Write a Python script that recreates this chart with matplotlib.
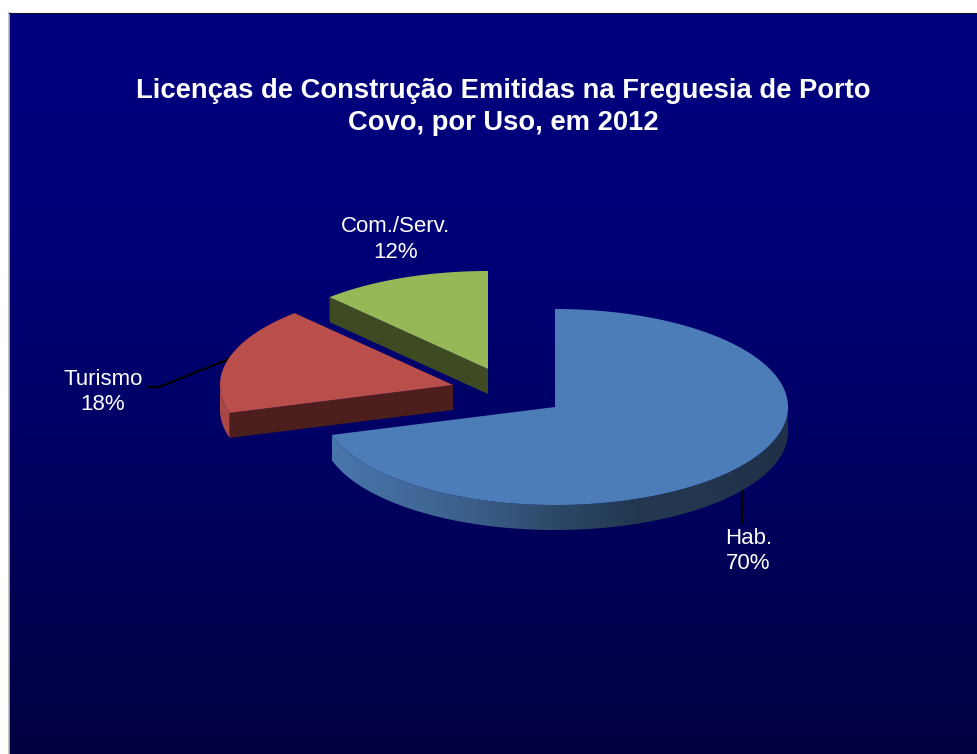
import numpy as np
import matplotlib
matplotlib.use("Agg")
import matplotlib.pyplot as plt
from matplotlib.patches import Polygon
from matplotlib.colors import LinearSegmentedColormap

title = "Licenças de Construção Emitidas na Freguesia de Porto\nCovo, por Uso, em 2012"
categories = ["Hab.", "Turismo", "Com./Serv."]
values = [70.4, 17.7, 11.9]

W, H = 977, 754
plt.rcParams["font.family"] = ["Liberation Sans", "DejaVu Sans"]
fig = plt.figure(figsize=(W / 100, H / 100), dpi=100, facecolor="white")
ax = fig.add_axes([0, 0, 1, 1])
ax.set_xlim(0, W)
ax.set_ylim(H, 0)
ax.axis("off")

# background panel
PX0, PY0 = 9, 13
bg = LinearSegmentedColormap.from_list("bg", ["#000080", "#000076", "#00005e", "#000040"])
ax.imshow(np.linspace(0, 1, 256)[:, None], cmap=bg, extent=(PX0, W, H, PY0),
          aspect="auto", zorder=0, interpolation="bilinear")
ax.set_xlim(0, W)
ax.set_ylim(H, 0)
ax.plot([PX0 - 0.5, PX0 - 0.5], [PY0, H], color="#b8b8b8", lw=1.2, zorder=1)
ax.plot([PX0, W], [PY0, PY0], color="#101030", lw=0.8, zorder=1)

# layout of the tilted pie
RX, RY, DEPTH = 233, 98, 25
centers = {"Hab.": (555, 407), "Turismo": (453, 385), "Com./Serv.": (488, 369)}
tops = {"Hab.": "#4d7db8", "Turismo": "#ba4e4a", "Com./Serv.": "#98b757"}
cuts = {"Turismo": "#4d1f1c", "Com./Serv.": "#3e4a22"}
RED_RIM = "#a84743"


def arc(c, a0, a1, dz=0, n=160):
    t = np.radians(np.linspace(a0, a1, n))
    return np.column_stack([c[0] + RX * np.cos(t), c[1] - RY * np.sin(t) + dz])


# wedge angles, clockwise from 12 o'clock
angles = {}
start = 90.0
for name, v in zip(categories, values):
    end = start - v / sum(values) * 360
    angles[name] = (start, end)
    start = end

# leader lines
ax.plot([148, 159, 229], [387, 387, 359], color="black", lw=1.6, zorder=2)
ax.plot([741.5, 741.5], [490, 523], color="black", lw=1.5, zorder=2)

# green slice
c = centers["Com./Serv."]
a0, a1 = angles["Com./Serv."]
edge = arc(c, a0, a0, n=1)[0]
ax.add_patch(Polygon([c, edge, edge + [0, DEPTH], np.array(c) + [0, DEPTH]],
                     fc=cuts["Com./Serv."], ec="none", zorder=3))
ax.add_patch(Polygon(np.vstack([[c], arc(c, a0, a1)]), fc=tops["Com./Serv."], ec="none", zorder=4))

# red slice
c = centers["Turismo"]
a0, a1 = angles["Turismo"]
edge = arc(c, a0, a0, n=1)[0]
ax.add_patch(Polygon(np.vstack([arc(c, -180, a0), arc(c, a0, -180, dz=DEPTH)]),
                     fc=RED_RIM, ec="none", zorder=5))
ax.add_patch(Polygon([c, edge, edge + [0, DEPTH], np.array(c) + [0, DEPTH]],
                     fc=cuts["Turismo"], ec="none", zorder=6))
ax.add_patch(Polygon(np.vstack([[c], arc(c, a0, a1)]), fc=tops["Turismo"], ec="none", zorder=7))

# blue slice: rim with horizontal shading, then top face
c = centers["Hab."]
a0, a1 = angles["Hab."]
rim = np.vstack([arc(c, a1, 0, n=300), arc(c, 0, a1, dz=DEPTH, n=300)])
rim_patch = Polygon(rim, fc="none", ec="none", zorder=8)
ax.add_patch(rim_patch)
rim_cmap = LinearSegmentedColormap.from_list(
    "rim", ["#4a76ad", "#42699a", "#395c86", "#2c4766", "#22384f", "#22364f", "#1f3048"])
img = ax.imshow(np.linspace(0, 1, 256)[None, :], cmap=rim_cmap,
                extent=(rim[:, 0].min(), rim[:, 0].max(), rim[:, 1].max(), rim[:, 1].min()),
                aspect="auto", zorder=8)
img.set_clip_path(rim_patch)
ax.set_xlim(0, W)
ax.set_ylim(H, 0)
ax.add_patch(Polygon(np.vstack([[c], arc(c, a0, a1, n=400)]), fc=tops["Hab."], ec="none", zorder=9))

# text
ax.text(503, 107, title, color="white", fontsize=19.75, fontweight="bold",
        ha="center", va="center", linespacing=1.26, zorder=10)
label_pos = {"Hab.": (748.5, 551), "Turismo": (103, 392), "Com./Serv.": (396, 239.5)}
for name, v in zip(categories, values):
    x, y = label_pos[name]
    ax.text(x, y, f"{name}\n{v:.0f}%", color="white", fontsize=16, ha="center",
            va="center", linespacing=1.28, zorder=10)

fig.savefig("out.png", dpi=100, facecolor="white")
